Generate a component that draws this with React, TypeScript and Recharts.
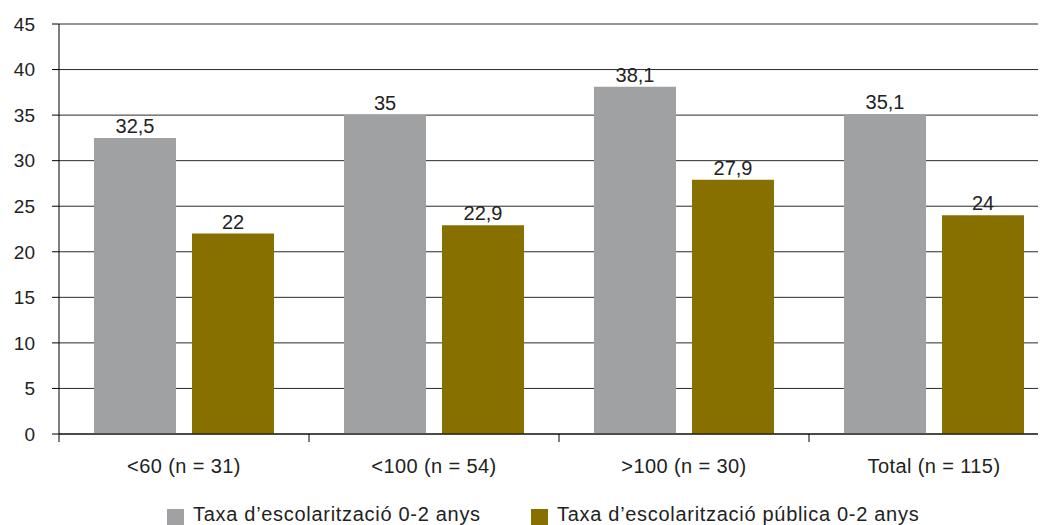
import { BarChart, Bar, XAxis, YAxis, CartesianGrid, Legend, LabelList } from 'recharts'

const categories = ['<60 (n = 31)', '<100 (n = 54)', '>100 (n = 30)', 'Total (n = 115)']
const taxaTotal = [32.5, 35, 38.1, 35.1]
const taxaPublica = [22, 22.9, 27.9, 24]
const yTicks = [0, 5, 10, 15, 20, 25, 30, 35, 40, 45]

const SERIES = [
  { key: 'total', name: 'Taxa d\u2019escolarització 0-2 anys', color: '#a0a1a3' },
  { key: 'publica', name: 'Taxa d\u2019escolarització pública 0-2 anys', color: '#877000' },
]

const data = categories.map((cat, i) => ({ cat, total: taxaTotal[i], publica: taxaPublica[i] }))

const fmt = (v: number) => String(v).replace('.', ',')

// tick y arrives as axisY + 8; draw boundary ticks down from the axis
function CatTick({ x, y, payload }: any) {
  return (
    <g>
      <line x1={x - 125} x2={x - 125} y1={y - 8} y2={y} stroke="#000" />
      <text x={x} y={y + 31} textAnchor="middle" fill="#222" fontSize={20} letterSpacing={0.4}>
        {payload.value}
      </text>
    </g>
  )
}

function LegendBox() {
  return (
    <div style={{ position: 'relative', height: 41, fontSize: 20, color: '#222', letterSpacing: 0.7 }}>
      {SERIES.map((s, i) => (
        <div
          key={s.key}
          style={{ position: 'absolute', top: 25, left: i === 0 ? 167 : 531, display: 'flex', alignItems: 'flex-start', whiteSpace: 'nowrap' }}
        >
          <span style={{ width: 17, height: 17, background: s.color, display: 'inline-block', marginRight: 9 }} />
          <span style={{ lineHeight: '17px', position: 'relative', top: -3 }}>{s.name}</span>
        </div>
      ))}
    </div>
  )
}

export default function App() {
  return (
    <div style={{ margin: '-8px 0 0 -8px', width: 1046, height: 525, overflow: 'hidden', fontFamily: '"Liberation Sans", Arial, sans-serif' }}>
      <BarChart
        width={1060}
        height={525}
        data={data}
        margin={{ top: 24, right: 1, left: 0, bottom: 0 }}
        barCategoryGap={35}
        barGap={16}
      >
        <CartesianGrid vertical={false} stroke="#2a2a2a" />
        <XAxis dataKey="cat" height={50} tickLine={false} axisLine={{ stroke: '#000' }} tick={<CatTick />} interval={0} />
        <YAxis
          width={59}
          domain={[0, 45]}
          ticks={yTicks}
          tickSize={7}
          tickMargin={17}
          axisLine={{ stroke: '#000' }}
          tickLine={{ stroke: '#000' }}
          tick={{ fill: '#222', fontSize: 19 }}
        />
        <Legend verticalAlign="bottom" height={41} content={() => <LegendBox />} />
        {SERIES.map(s => (
          <Bar key={s.key} dataKey={s.key} name={s.name} fill={s.color} isAnimationActive={false}>
            <LabelList dataKey={s.key} position="top" offset={5} fill="#222" fontSize={20} formatter={(v: any) => fmt(v)} />
          </Bar>
        ))}
      </BarChart>
    </div>
  )
}
